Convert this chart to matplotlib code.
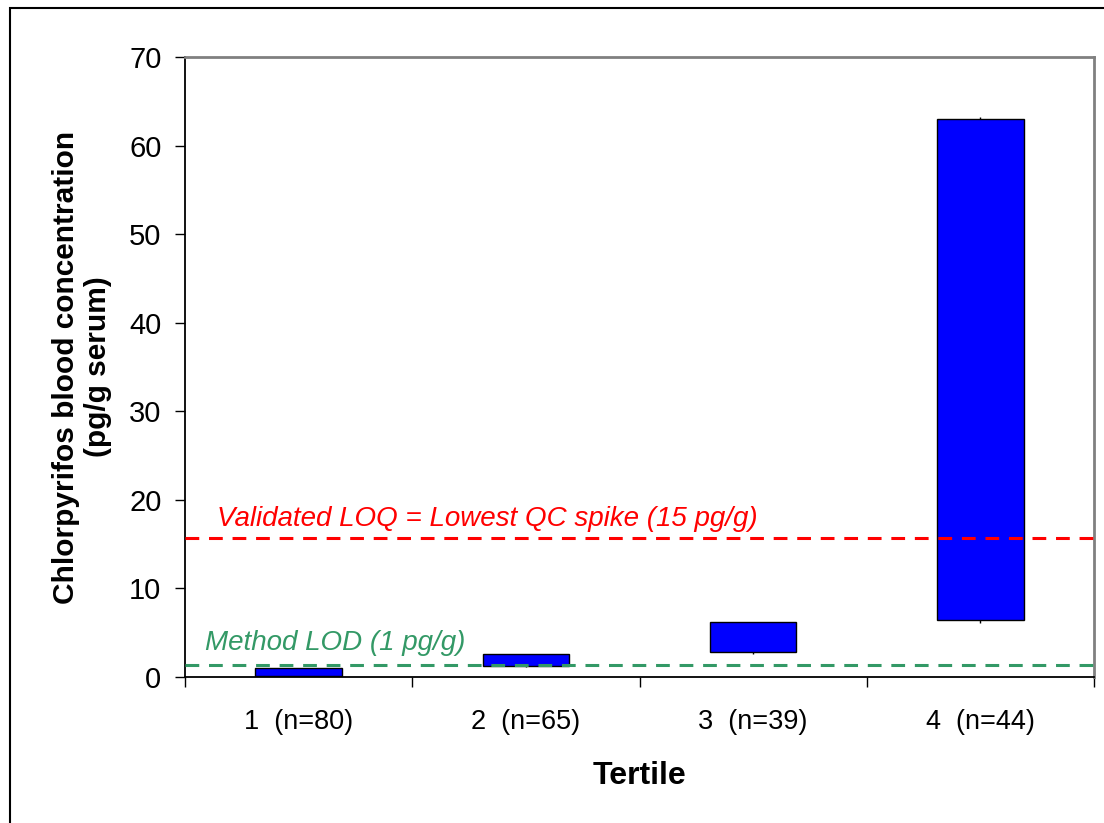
import matplotlib
matplotlib.use("Agg")
import matplotlib.pyplot as plt
from matplotlib.patches import Rectangle

# tertile ranges of chlorpyrifos concentration (pg/g serum)
tertiles = ["1  (n=80)", "2  (n=65)", "3  (n=39)", "4  (n=44)"]
range_low = [0.1, 1.25, 2.8, 6.4]
range_high = [1.0, 2.6, 6.2, 63.0]
line_low = [0.0, 1.1, 2.6, 6.1]
line_high = [1.0, 2.6, 6.2, 63.2]

loq_value = 15.7
lod_value = 1.4
loq_text = "Validated LOQ = Lowest QC spike (15 pg/g)"
lod_text = "Method LOD (1 pg/g)"

plt.rcParams["font.family"] = ["Liberation Sans", "DejaVu Sans"]

fig = plt.figure(figsize=(11.04, 8.23), dpi=100)
ax = fig.add_axes([185 / 1104, 1 - 677 / 823, (1094 - 185) / 1104, (677 - 57) / 823])

# outer frame of the figure (top and left edges visible)
fig.patches.append(Rectangle((10 / 1104, -0.1), 1.2, 1 - 8 / 823 + 0.1,
                             transform=fig.transFigure, fill=False,
                             edgecolor="black", linewidth=1.5, clip_on=False))

xs = list(range(1, len(tertiles) + 1))
heights = [h - l for h, l in zip(range_high, range_low)]
ax.vlines(xs, line_low, line_high, color="black", linewidth=1, zorder=2)
ax.bar(xs, heights, bottom=range_low, width=0.38, color="#0000FF",
       edgecolor="black", linewidth=1, zorder=3)

ax.axhline(loq_value, color="#FF0000", linestyle=(0, (4.5, 3.2)), linewidth=2.2, zorder=4)
ax.axhline(lod_value, color="#339966", linestyle=(0, (4.5, 3.2)), linewidth=2.2, zorder=4)
ax.text(0.64, 17.0, loq_text, color="#FF0000", style="italic", fontsize=20, va="baseline")
ax.text(0.59, 3.1, lod_text, color="#339966", style="italic", fontsize=20, va="baseline")

ax.set_xlim(0.5, 4.5)
ax.set_ylim(0, 70)
ax.set_yticks(range(0, 71, 10))
ax.set_xticks([0.5, 1.5, 2.5, 3.5, 4.5])
ax.set_xticklabels([])
ax.set_xticks(xs, minor=True)
ax.set_xticklabels(tertiles, minor=True)
ax.tick_params(axis="x", which="major", direction="out", length=7, width=1)
ax.tick_params(axis="x", which="minor", length=0, pad=23, labelsize=19.5)
ax.tick_params(axis="y", direction="out", length=7, width=1, pad=10, labelsize=21)

for side in ["left", "bottom"]:
    ax.spines[side].set_color("black")
    ax.spines[side].set_linewidth(1.3)
for side in ["top", "right"]:
    ax.spines[side].set_color("#808080")
    ax.spines[side].set_linewidth(2)

ax.set_ylabel("Chlorpyrifos blood concentration\n(pg/g serum)", fontsize=21.5,
              fontweight="bold", labelpad=12)
ax.set_xlabel("Tertile", fontsize=23, fontweight="bold", labelpad=19)

plt.savefig("out.png", dpi=100)
plt.close(fig)
